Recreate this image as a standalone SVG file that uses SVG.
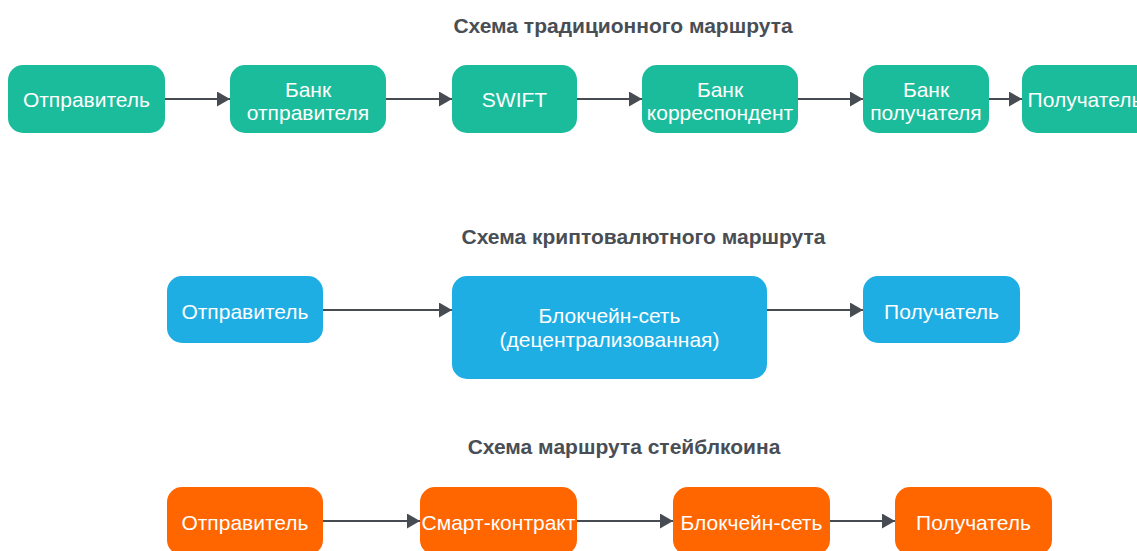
<svg xmlns="http://www.w3.org/2000/svg" width="1137" height="551" viewBox="0 0 1137 551">
<style>
.title{font-family:"Liberation Sans",Arial,sans-serif;font-weight:bold;font-size:21px;fill:#494e55;text-anchor:middle}
.lbl{font-family:"Liberation Sans",Arial,sans-serif;font-size:21px;fill:#ffffff;text-anchor:middle}
.t{fill:#1bbc9b}
.b{fill:#1eaee3}
.o{fill:#ff6600}
.conn path{stroke:#474c52;stroke-width:2.2;fill:none;marker-end:url(#ah)}
</style>
<defs>
<marker id="ah" markerUnits="userSpaceOnUse" markerWidth="14" markerHeight="16" refX="13" refY="7.5" orient="auto">
<path d="M0,0 L13,7.5 L0,15 Z" fill="#474c52"/>
</marker>
</defs>
<rect width="1137" height="551" fill="#ffffff"/>
<text class="title" x="623" y="33">Схема традиционного маршрута</text>
<text class="title" x="643.5" y="244">Схема криптовалютного маршрута</text>
<text class="title" x="624" y="454">Схема маршрута стейблкоина</text>

<g id="r1-sender"><rect class="t" x="8" y="65" width="157" height="68" rx="15"/><text class="lbl" x="86.5" y="107">Отправитель</text></g>
<g id="r1-bank-sender"><rect class="t" x="230" y="65" width="156" height="68" rx="15"/><text class="lbl" x="308" y="97">Банк</text><text class="lbl" x="308" y="120">отправителя</text></g>
<g id="r1-swift"><rect class="t" x="452" y="65" width="125" height="68" rx="15"/><text class="lbl" x="514.5" y="107">SWIFT</text></g>
<g id="r1-bank-corr"><rect class="t" x="642" y="65" width="156" height="68" rx="15"/><text class="lbl" x="720" y="97">Банк</text><text class="lbl" x="720" y="120">корреспондент</text></g>
<g id="r1-bank-recv"><rect class="t" x="863" y="65" width="126" height="68" rx="15"/><text class="lbl" x="926" y="97">Банк</text><text class="lbl" x="926" y="120">получателя</text></g>
<g id="r1-recv"><rect class="t" x="1022" y="65" width="130" height="68" rx="15"/><text class="lbl" x="1085" y="107">Получатель</text></g>

<g id="r2-sender"><rect class="b" x="167" y="276" width="156" height="67" rx="15"/><text class="lbl" x="245" y="319">Отправитель</text></g>
<g id="r2-chain"><rect class="b" x="452" y="276" width="315" height="103" rx="15"/><text class="lbl" x="609.5" y="323">Блокчейн-сеть</text><text class="lbl" x="609.5" y="347">(децентрализованная)</text></g>
<g id="r2-recv"><rect class="b" x="863" y="276" width="157" height="67" rx="15"/><text class="lbl" x="941.5" y="319">Получатель</text></g>

<g id="r3-sender"><rect class="o" x="167" y="487" width="156" height="68" rx="15"/><text class="lbl" x="245" y="530">Отправитель</text></g>
<g id="r3-contract"><rect class="o" x="420" y="487" width="157" height="68" rx="15"/><text class="lbl" x="498.5" y="530">Смарт-контракт</text></g>
<g id="r3-chain"><rect class="o" x="673" y="487" width="157" height="68" rx="15"/><text class="lbl" x="751.5" y="530">Блокчейн-сеть</text></g>
<g id="r3-recv"><rect class="o" x="895" y="487" width="157" height="68" rx="15"/><text class="lbl" x="973.5" y="530">Получатель</text></g>

<g id="connectors" class="conn">
<path d="M165,99 H230"/>
<path d="M386,99 H452"/>
<path d="M577,99 H642"/>
<path d="M798,99 H863"/>
<path d="M989,99 H1022"/>
<path d="M323,310 H452"/>
<path d="M767,310 H863"/>
<path d="M323,521 H420"/>
<path d="M577,521 H673"/>
<path d="M830,521 H895"/>
</g>
</svg>
